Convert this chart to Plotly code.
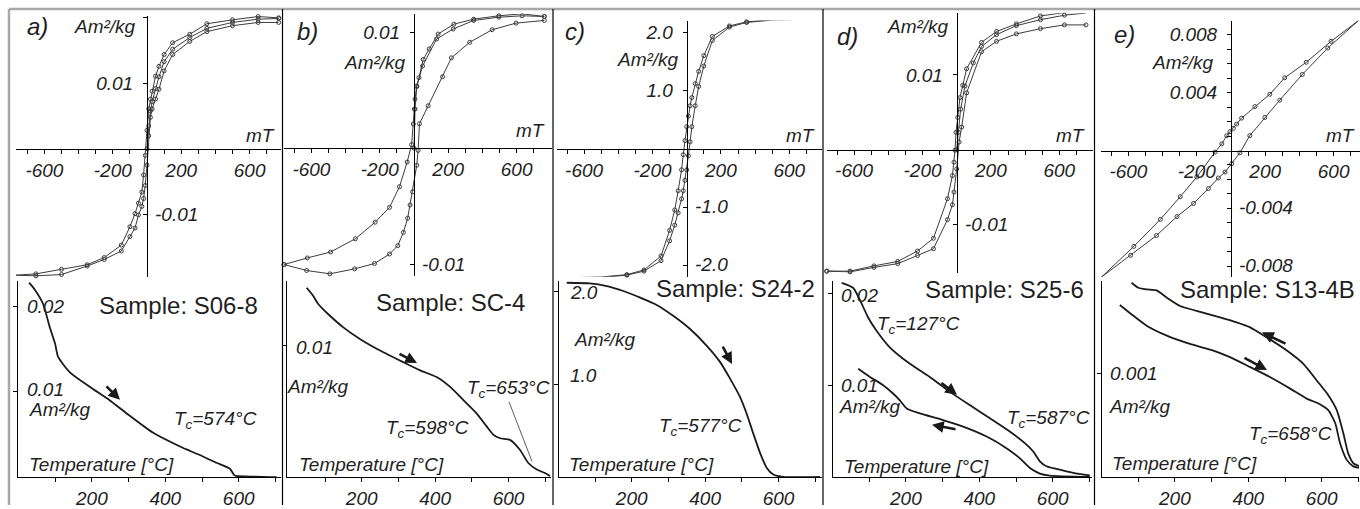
import plotly.graph_objects as go

# ---------------------------------------------------------------- data ----
PANEL_LETTERS = ["a)", "b)", "c)", "d)", "e)"]
SAMPLES = ["Sample: S06-8", "Sample: SC-4", "Sample: S24-2", "Sample: S25-6", "Sample: S13-4B"]

HYST_X_LABELS = [-600, -200, 200, 600]
HYST_X_TICKS = [-700, -600, -500, -400, -300, -200, -100, 100, 200, 300, 400, 500, 600, 700]
TEMP_LABELS = [200, 400, 600]
TEMP_TICKS = [100, 200, 300, 400, 500, 600, 700]

# hysteresis y ticks (marks), labelled positives (left) and negatives (right)
A_Y_TICKS = [0.02, 0.01, -0.01]
B_Y_TICKS = [0.01, -0.01]
C_Y_TICKS = [2.0, 1.0, -1.0, -2.0]
D_Y_TICKS = [0.01, -0.01]
E_Y_TICKS = [0.009, 0.008, 0.007, 0.006, 0.005, 0.004, 0.003, 0.002, 0.001,
             -0.001, -0.002, -0.003, -0.004, -0.005, -0.006, -0.007, -0.008]
A_Y_LABELS = [0.01, -0.01]
B_Y_LABELS = [0.01, -0.01]
C_Y_LABELS = [2.0, 1.0, -1.0, -2.0]
D_Y_LABELS = [0.01, -0.01]
E_Y_LABELS = [0.008, 0.004, -0.004, -0.008]
Y_FORMATS = ["{:.2f}", "{:.2f}", "{:.1f}", "{:.2f}", "{:.3f}"]

# thermomagnetic y ticks
A_T_YTICKS = [0.01, 0.02]
B_T_YTICKS = [0.01]
C_T_YTICKS = [1.0, 2.0]
D_T_YTICKS = [0.01, 0.02]
E_T_YTICKS = [0.001]

# ---- hysteresis loops: field (mT) and moment (Am2/kg)
A_DESC_H = [770, 650, 500, 350, 250, 150, 100, 70, 50, 30, 20, 10, 0, -10, -20, -30, -50, -70, -100, -150, -250, -350, -500, -650, -770]
A_DESC_M = [0.0200, 0.0202, 0.0197, 0.0191, 0.0175, 0.0162, 0.0144, 0.0126, 0.0111, 0.0088, 0.0076, 0.0061, 0.0028, -0.0010, -0.0040, -0.0066, -0.0083, -0.0099, -0.0119, -0.0147, -0.0166, -0.0177, -0.0184, -0.0191, -0.0193]
A_ASC_H = [-770, -650, -500, -350, -250, -150, -100, -70, -50, -30, -20, -10, 0, 10, 20, 30, 50, 70, 100, 150, 250, 350, 500, 650, 770]
A_ASC_M = [-0.0193, -0.0194, -0.0192, -0.0179, -0.0169, -0.0156, -0.0134, -0.0121, -0.0101, -0.0088, -0.0076, -0.0056, -0.0025, 0.0020, 0.0048, 0.0061, 0.0076, 0.0091, 0.0119, 0.0144, 0.0164, 0.0179, 0.0188, 0.0193, 0.0193]
A_VIRG_H = [0, 10, 20, 30, 50, 70, 100, 150, 250, 350, 500, 650, 770]
A_VIRG_M = [0.0, 0.0035, 0.0058, 0.0072, 0.0092, 0.0110, 0.0133, 0.0152, 0.0170, 0.0184, 0.0193, 0.0198, 0.0199]

B_DESC_H = [762, 632, 496, 349, 233, 141, 89, 54, 29, 16, 6, 2, -4, -14, -40, -85, -143, -227, -343, -488, -624, -760]
B_DESC_M = [0.01134, 0.01157, 0.0114, 0.01111, 0.01068, 0.00983, 0.00855, 0.00764, 0.00607, 0.00536, 0.00422, 0.00336, 0.00208, 0.0003, -0.0012, -0.00333, -0.0051, -0.00638, -0.00781, -0.00895, -0.00946, -0.01003]
B_ASC_H = [-760, -628, -492, -347, -231, -143, -95, -62, -37, -23, -8, 16, 24, 32, 83, 167, 219, 326, 457, 597, 762]
B_ASC_M = [-0.01003, -0.01054, -0.01083, -0.0104, -0.00994, -0.00912, -0.0084, -0.00726, -0.00604, -0.0049, -0.00376, -0.00148, -0.0002, 0.0021, 0.00365, 0.00615, 0.00778, 0.00912, 0.0102, 0.01077, 0.011]
B_VIRG_H = [0, 6, 16, 50, 132, 229, 349, 496, 632, 762]
B_VIRG_M = [0.0, 0.00336, 0.0053, 0.00707, 0.0094, 0.01026, 0.011, 0.01128, 0.0114, 0.01134]

C_DESC_H = [770, 650, 500, 350, 250, 150, 100, 70, 50, 30, 20, 10, 0, -10, -20, -30, -50, -70, -100, -150, -250, -350, -500, -650, -770]
C_DESC_M = [2.23, 2.23, 2.22, 2.18, 2.11, 1.93, 1.60, 1.33, 1.12, 0.88, 0.74, 0.56, 0.38, 0.14, -0.10, -0.36, -0.72, -1.05, -1.40, -1.84, -2.08, -2.16, -2.20, -2.21, -2.22]
C_ASC_H = [-770, -650, -500, -350, -250, -150, -100, -70, -50, -30, -20, -10, 0, 10, 20, 30, 50, 70, 100, 150, 250, 350, 500, 650, 770]
C_ASC_M = [-2.22, -2.22, -2.21, -2.17, -2.10, -1.92, -1.58, -1.31, -1.10, -0.86, -0.72, -0.54, -0.36, -0.12, 0.12, 0.38, 0.74, 1.07, 1.42, 1.86, 2.09, 2.17, 2.21, 2.22, 2.23]

D_DESC_H = [756, 630, 490, 349, 233, 145, 58, 35, 19, 6, -4, -10, -16, -25, -54, -136, -229, -345, -484, -624, -760]
D_DESC_M = [0.01835, 0.01835, 0.0179, 0.01684, 0.01582, 0.01436, 0.01082, 0.0086, 0.00696, 0.0043, 0.0023, -0.0001, -0.0017, -0.0035, -0.0066, -0.0119, -0.0136, -0.0150, -0.0156, -0.0163, -0.0163]
D_ASC_H = [-760, -624, -484, -345, -229, -136, -54, -25, -16, 0, 14, 29, 58, 145, 233, 349, 490, 630, 756]
D_ASC_M = [-0.0163, -0.0164, -0.0158, -0.0153, -0.0142, -0.0133, -0.0094, -0.0074, -0.0057, -0.0026, 0.0010, 0.0030, 0.0076, 0.0131, 0.0145, 0.0155, 0.0162, 0.0167, 0.0167]
D_VIRG_H = [0, 10, 23, 48, 97, 145, 233, 349, 490, 630, 756]
D_VIRG_M = [0.0, 0.0023, 0.0054, 0.0085, 0.0116, 0.0138, 0.0154, 0.0166, 0.0174, 0.0180, 0.0183]

E_DESC_H = [746, 585, 440, 314, 227, 140, 62, 33, 14, -6, -25, -54, -93, -200, -297, -413, -568, -758]
E_DESC_M = [0.00899, 0.00755, 0.0061, 0.00503, 0.00389, 0.00304, 0.00224, 0.00183, 0.00153, 0.0013, 0.00103, 0.00046, -0.00011, -0.00183, -0.0032, -0.00476, -0.00663, -0.00876]
E_ASC_H = [-758, -587, -436, -316, -219, -132, -74, -35, 4, 52, 110, 198, 285, 417, 566, 746]
E_ASC_M = [-0.00876, -0.00725, -0.00588, -0.00457, -0.00366, -0.00263, -0.0019, -0.00149, -0.00091, -0.00016, 0.00103, 0.00229, 0.00348, 0.00526, 0.00709, 0.00899]

# ---- thermomagnetic curves: temperature (degC) and moment (Am2/kg)
A_HEAT_T = [29, 44, 67, 85, 100, 108, 140, 194, 249, 294, 367, 440, 494, 539, 576, 589, 620, 703]
A_HEAT_M = [0.0228, 0.0220, 0.0203, 0.0176, 0.0156, 0.0141, 0.0123, 0.0106, 0.0090, 0.0075, 0.0052, 0.0036, 0.0026, 0.0017, 0.0010, 0.0002, 0.0001, 0.0]

B_HEAT_T = [50, 68, 82, 109, 150, 195, 250, 313, 359, 404, 441, 477, 513, 541, 559, 577, 604, 631, 654, 677, 699, 713]
B_HEAT_M = [0.01439, 0.01377, 0.01314, 0.01238, 0.01138, 0.0105, 0.00962, 0.00874, 0.00812, 0.00761, 0.00686, 0.00586, 0.00485, 0.00384, 0.00322, 0.00296, 0.00284, 0.00209, 0.00108, 0.00058, 0.00032, 0.0001]

C_HEAT_T = [23, 86, 132, 177, 223, 268, 313, 359, 404, 441, 468, 495, 513, 531, 550, 568, 586, 613, 713]
C_HEAT_M = [2.092, 2.085, 2.056, 2.003, 1.932, 1.853, 1.736, 1.594, 1.416, 1.238, 1.06, 0.864, 0.686, 0.473, 0.259, 0.099, 0.029, 0.003, 0.003]

D_HEAT_T = [25, 56, 74, 97, 120, 156, 211, 265, 320, 374, 429, 483, 524, 547, 565, 583, 610, 656, 701]
D_HEAT_M = [0.02114, 0.0206, 0.01934, 0.01737, 0.01593, 0.01413, 0.01233, 0.0109, 0.00928, 0.00784, 0.0064, 0.00496, 0.0037, 0.0028, 0.00173, 0.00119, 0.0009, 0.00047, 0.0002]
D_COOL_T = [701, 592, 565, 538, 510, 474, 420, 356, 301, 238, 202, 183, 165, 138, 102, 70]
D_COOL_M = [0.00003, 0.00018, 0.0004, 0.001, 0.00208, 0.00316, 0.00442, 0.0055, 0.00622, 0.00694, 0.00748, 0.00838, 0.0091, 0.0100, 0.0109, 0.01179]

E_HEAT_T = [50, 87, 123, 178, 241, 305, 350, 405, 459, 514, 559, 595, 618, 637, 650, 668, 686, 704]
E_HEAT_M = [0.001665, 0.00156, 0.001464, 0.001368, 0.001288, 0.001224, 0.00116, 0.001064, 0.000968, 0.000856, 0.00076, 0.000706, 0.000649, 0.000521, 0.000329, 0.00017, 0.000105, 0.000089]
E_COOL_T = [704, 686, 672, 659, 641, 618, 586, 550, 505, 450, 405, 368, 323, 259, 214, 178, 150, 123, 100, 82]
E_COOL_M = [0.000105, 0.000137, 0.000233, 0.000425, 0.000649, 0.000793, 0.000937, 0.001096, 0.001224, 0.001352, 0.001448, 0.001496, 0.001544, 0.001608, 0.001655, 0.001735, 0.001805, 0.001815, 0.001831, 0.001879]

CURIE_LABELS = [["574"], ["653", "598"], ["577"], ["127", "587"], ["658"]]

HYST = [
    [(A_DESC_H, A_DESC_M), (A_ASC_H, A_ASC_M), (A_VIRG_H, A_VIRG_M)],
    [(B_DESC_H, B_DESC_M), (B_ASC_H, B_ASC_M), (B_VIRG_H, B_VIRG_M)],
    [(C_DESC_H, C_DESC_M), (C_ASC_H, C_ASC_M)],
    [(D_DESC_H, D_DESC_M), (D_ASC_H, D_ASC_M), (D_VIRG_H, D_VIRG_M)],
    [(E_DESC_H, E_DESC_M), (E_ASC_H, E_ASC_M)],
]
THERMO = [
    [(A_HEAT_T, A_HEAT_M)],
    [(B_HEAT_T, B_HEAT_M)],
    [(C_HEAT_T, C_HEAT_M)],
    [(D_HEAT_T, D_HEAT_M), (D_COOL_T, D_COOL_M)],
    [(E_HEAT_T, E_HEAT_M), (E_COOL_T, E_COOL_M)],
]
Y_TICKS = [A_Y_TICKS, B_Y_TICKS, C_Y_TICKS, D_Y_TICKS, E_Y_TICKS]
Y_LABELS = [A_Y_LABELS, B_Y_LABELS, C_Y_LABELS, D_Y_LABELS, E_Y_LABELS]
T_YTICKS = [A_T_YTICKS, B_T_YTICKS, C_T_YTICKS, D_T_YTICKS, E_T_YTICKS]
T_YFORMATS = ["{:.2f}", "{:.2f}", "{:.1f}", "{:.2f}", "{:.3f}"]

# -------------------------------------------------------------- layout ----
W, H = 1360, 509
FONT = "Liberation Sans, Arial, sans-serif"
TXT = "#1f1f1f"
LINE = "#3c3c3c"


def fx(p):
    return p / W


def fy(p):
    return 1 - p / H


def nm(letter, n):
    return letter if n == 1 else f"{letter}{n}"


def key(letter, n):
    return f"{letter}axis" if n == 1 else f"{letter}axis{n}"


# pixel geometry of the top panels: x0, x1, x-origin, y0, y1, y-origin, px/mT, px/unit
TOP_GEOM = [
    (16, 281, 147, 16, 279, 150, 0.171, 6600),
    (283.5, 552, 414, 14, 278, 149.3, 0.171, 11700),
    (556.7, 822, 686.7, 20.7, 279, 150, 0.171, 58.7),
    (826.7, 1093, 956.7, 13.3, 275, 150.7, 0.171, 7520),
    (1100.7, 1360, 1231, 20.7, 279.3, 151.7, 0.171, 14575),
]
# pixel geometry of the bottom panels: x0, x1, T=0 px, y0, y1, px/degC, px/unit
BOT_GEOM = [
    (18.3, 281, 18.5, 283, 481, 0.367, 8600),
    (286.7, 551, 288.3, 283, 481, 0.367, 13270),
    (559.3, 822, 558.3, 283, 481, 0.367, 93.7),
    (832.7, 1092, 832.5, 283, 481, 0.367, 9270),
    (1101.7, 1359, 1101.5, 283, 481, 0.367, 104300),
]
# left edge of the thermomagnetic y tick labels and small vertical nudges (px)
T_YLABEL_X = [25, 294, 568, 839, 1108]
T_YLABEL_DY = [[-2, 0], [2], [-9, 1], [0, 2], [0]]
NEG_LABEL_DY = [0, 0, -1, 0, -1]

TOP_FONT = dict(family=FONT, size=19, color=TXT, style="italic")
BOT_FONT = dict(family=FONT, size=19, color=TXT, style="italic")
TICK = dict(ticks="outside", ticklen=4, tickcolor="black", tickwidth=1)

fig = go.Figure()
layout = dict(
    width=W, height=H, margin=dict(l=0, r=0, t=0, b=0),
    paper_bgcolor="white", plot_bgcolor="rgba(0,0,0,0)",
    showlegend=False, font=dict(family=FONT, color=TXT),
)
annotations = []
shapes = []


def ann(text, px, py, size=19, italic=True, xanchor="center"):
    annotations.append(dict(
        text=text, x=fx(px), y=fy(py), xref="paper", yref="paper",
        xanchor=xanchor, yanchor="middle", showarrow=False,
        font=dict(family=FONT, size=size, color=TXT, style="italic" if italic else "normal"),
    ))


for i in range(5):
    xt, xb = 2 * i + 1, 2 * i + 2
    yt, yb = 2 * i + 1, 2 * i + 2
    x0, x1, ox, y0, y1, oy, sx, sy = TOP_GEOM[i]
    fmt = Y_FORMATS[i]
    yr = [(oy - y1) / sy, (oy - y0) / sy]
    pos_labels = [v for v in Y_LABELS[i] if v > 0]

    layout[key("x", xt)] = dict(
        domain=[fx(x0), fx(x1)], range=[(x0 - ox) / sx, (x1 - ox) / sx],
        anchor="free", position=fy(oy), showline=True, linecolor="black", linewidth=1,
        showgrid=False, zeroline=False, **TICK,
        tickvals=HYST_X_LABELS, ticktext=[str(v) for v in HYST_X_LABELS],
        minor=dict(tickvals=[v for v in HYST_X_TICKS if v not in HYST_X_LABELS], **TICK),
        tickfont=TOP_FONT, fixedrange=True,
    )
    layout[key("y", yt)] = dict(
        domain=[fy(y1), fy(y0)], range=yr, anchor="free", position=fx(ox),
        showline=True, linecolor="black", linewidth=1, showgrid=False, zeroline=False,
        **TICK, tickvals=pos_labels, ticktext=[fmt.format(v) for v in pos_labels],
        minor=dict(tickvals=[v for v in Y_TICKS[i] if v not in pos_labels], **TICK),
        ticklabelstandoff=6, tickfont=TOP_FONT, fixedrange=True,
    )
    # negative y labels sit on the right-hand side of the vertical axis
    for v in Y_LABELS[i]:
        if v < 0:
            ann(fmt.format(v), ox + 6, oy - v * sy + NEG_LABEL_DY[i], xanchor="left")
    for hh, mm in HYST[i]:
        fig.add_trace(go.Scatter(
            x=hh, y=mm, mode="lines+markers", cliponaxis=False,
            line=dict(color=LINE, width=1),
            marker=dict(symbol="circle-open", size=4, color=LINE, line=dict(width=1)),
            xaxis=nm("x", xt), yaxis=nm("y", yt), hoverinfo="skip",
        ))

    bx0, bx1, t0, by0, by1, st, sm = BOT_GEOM[i]
    tfmt = T_YFORMATS[i]
    layout[key("x", xb)] = dict(
        domain=[fx(bx0), fx(bx1)], range=[(bx0 - t0) / st, (bx1 - t0) / st],
        anchor=nm("y", yb), showline=True, linecolor="black", linewidth=1,
        showgrid=False, zeroline=False, **TICK,
        tickvals=TEMP_LABELS, ticktext=[str(v) for v in TEMP_LABELS],
        minor=dict(tickvals=[v for v in TEMP_TICKS if v not in TEMP_LABELS], **TICK),
        tickfont=BOT_FONT, fixedrange=True,
    )
    layout[key("y", yb)] = dict(
        domain=[fy(by1), fy(by0)], range=[0, (by1 - by0) / sm],
        anchor=nm("x", xb), showline=True, linecolor="black", linewidth=1,
        showgrid=False, zeroline=False, **TICK,
        tickvals=T_YTICKS[i], showticklabels=False, fixedrange=True,
    )
    # y tick labels of the thermomagnetic panel, placed inside the plot
    for v, dy in zip(T_YTICKS[i], T_YLABEL_DY[i]):
        ann(tfmt.format(v), T_YLABEL_X[i], by1 - v * sm + dy, xanchor="left")
    for tt, mm in THERMO[i]:
        fig.add_trace(go.Scatter(
            x=tt, y=mm, mode="lines", cliponaxis=False,
            line=dict(color="#1a1a1a", width=1.8, shape="spline", smoothing=0.6),
            xaxis=nm("x", xb), yaxis=nm("y", yb), hoverinfo="skip",
        ))


def arrow(hx, hy, ax, ay):
    annotations.append(dict(
        text="", x=fx(hx), y=fy(hy), xref="paper", yref="paper", showarrow=True,
        ax=ax, ay=ay, arrowhead=2, arrowsize=0.9, arrowwidth=2.6, arrowcolor="#1a1a1a",
    ))


# panel letters, units
LETTER_POS = [(25, 27), (295, 32), (563, 32), (835, 37), (1112, 35)]
UNIT_TOP_POS = [(72, 27), (342, 63), (615, 60), (885, 27), (1150, 63)]
MT_POS = [(277, 137), (547, 132), (817, 137), (1087, 137), (1357, 137)]
SAMPLE_POS = [(178, 308), (450, 305), (735, 291), (1004, 292), (1267, 292)]
UNIT_BOT_POS = [(27, 413), (285, 390), (572, 342), (837, 410), (1107, 410)]
TEMP_POS = [(27, 468), (297, 468), (567, 468), (842, 470), (1110, 467)]
CURIE_POS = [[(215, 423)], [(508, 392), (427, 432)], [(701, 430)], [(918, 328), (1048, 422)], [(1290, 438)]]

for i in range(5):
    ann(PANEL_LETTERS[i], *LETTER_POS[i], size=24, xanchor="left")
    ann("Am²/kg", *UNIT_TOP_POS[i], size=19, xanchor="left")
    ann("mT", *MT_POS[i], size=19, xanchor="right")
    ann(SAMPLES[i], *SAMPLE_POS[i], size=24, italic=False)
    ann("Am²/kg", *UNIT_BOT_POS[i], size=19, xanchor="left")
    ann("Temperature [°C]", *TEMP_POS[i], size=19, xanchor="left")
    for lab, pos in zip(CURIE_LABELS[i], CURIE_POS[i]):
        ann(f"T<sub>c</sub>={lab}°C", *pos, size=19)

# direction arrows (head position px, tail offset px)
arrow(120, 403, -15, -15)
arrow(417, 366, -19, -10)
arrow(732, 367, -10, -19)
arrow(957, 398, -17, -13)
arrow(932, 428, 25, 5)
arrow(1262, 335, 25, 12)
arrow(1267, 373, -24, -13)

# leader line for Tc = 653
shapes.append(dict(type="line", xref="paper", yref="paper",
                   x0=fx(509), y0=fy(405), x1=fx(532), y1=fy(465),
                   line=dict(color="#333", width=0.8)))
# frame and dividers
shapes.append(dict(type="line", xref="paper", yref="paper", x0=fx(9), x1=fx(1360),
                   y0=fy(9), y1=fy(9), line=dict(color="#a8a8a8", width=2.5)))
shapes.append(dict(type="line", xref="paper", yref="paper", x0=fx(9), x1=fx(9),
                   y0=fy(9), y1=fy(509), line=dict(color="#a8a8a8", width=2.5)))
for dx in [282.5, 553, 823, 1094.5]:
    shapes.append(dict(type="line", xref="paper", yref="paper", x0=fx(dx), x1=fx(dx),
                       y0=fy(9), y1=fy(509), line=dict(color="black", width=1.2)))

layout["annotations"] = annotations
layout["shapes"] = shapes
fig.update_layout(**layout)
fig.write_html("out.html", config={"displayModeBar": False},
               post_script="document.body.style.margin='0px';")
